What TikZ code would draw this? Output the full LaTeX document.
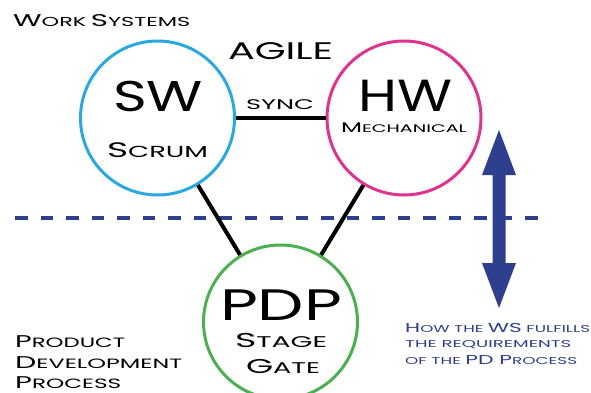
\documentclass[tikz,border=0pt]{standalone}
\usepackage{fontspec}
\usepackage{graphicx}
\setmainfont{Poppins}
\definecolor{swblue}{HTML}{29A9E0}
\definecolor{hwpink}{HTML}{E0338F}
\definecolor{pdgreen}{HTML}{4CAF50}
\definecolor{navy}{HTML}{2E3F8E}
% size-switched letters for a caps / small-caps look
\newcommand\kc[2]{{\fontsize{#1pt}{#1pt}\selectfont #2}}
% set a line of text to a given width (pt) by stretching it horizontally
\newlength\fitlen
\newcommand\fitw[2]{\settowidth\fitlen{#2}\scalebox{\fpeval{#1/\fitlen}}[1]{#2}}
\tikzset{
  ring/.style={circle, line width=3pt, minimum size=154pt, inner sep=0pt, fill=white},
  link/.style={line width=4pt, black},
  lbl/.style={inner sep=0pt, anchor=base, text=black, text depth=0pt},
  blk/.style={inner sep=0pt, anchor=base west, text=black, text depth=0pt},
}
\begin{document}
\begin{tikzpicture}[x=1pt,y=-1pt]
\useasboundingbox (0,0) rectangle (591,393);
\clip (0,0) rectangle (591,393);

% dividing line between work systems and process
\draw[navy, line width=3.5pt, dash pattern=on 12.5pt off 13pt] (15,218) -- (548,218);

% circles
\node[ring, draw=swblue] (sw) at (157.5,118) {};
\node[ring, draw=hwpink] (hw) at (404,118) {};
\node[ring, draw=pdgreen] (pdp) at (280.5,322) {};

% connectors
\draw[link] (sw) -- (hw);
\draw[link] (sw) -- (pdp);
\draw[link] (hw) -- (pdp);

% circle labels
\node[lbl] (swt) at (158,112) {\fitw{90}{\kc{43}{SW}}};
\node[lbl] (swsub) at (157.5,157) {\fitw{101}{\kc{21}{S}\kc{16}{CRUM}}};
\node[lbl] (hwt) at (405,112) {\fitw{94}{\kc{45}{HW}}};
\node[lbl] (hwsub) at (404,132) {\fitw{126}{\kc{14}{M}\kc{11}{ECHANICAL}}};
\node[lbl] (pdpt) at (281,320) {\fitw{122}{\kc{44}{PDP}}};
\node[lbl] (stage) at (281,347) {\fitw{92}{\kc{20}{S}\kc{15.5}{TAGE}}};
\node[lbl] (gate) at (283,373) {\fitw{74}{\kc{20}{G}\kc{15.5}{ATE}}};

% headings
\node[lbl] (agile) at (280.5,60) {\fitw{105}{\kc{24}{AGILE}}};
\node[lbl] (sync) at (280,110) {\fitw{68}{\kc{14}{SYNC}}};
\node[blk] (ws) at (13,27) {\fitw{177}{\kc{17}{W}\kc{13}{ORK} \kc{17}{S}\kc{13}{YSTEMS}}};
\node[blk] (pd1) at (15,347) {\fitw{110}{\kc{17}{P}\kc{13.5}{RODUCT}}};
\node[blk] (pd2) at (15,368) {\fitw{167}{\kc{17}{D}\kc{13.5}{EVELOPMENT}}};
\node[blk] (pd3) at (15,388) {\fitw{106}{\kc{17}{P}\kc{13.5}{ROCESS}}};

% two-way arrow
\fill[navy] (499,130) -- (516,175) -- (505.5,175) -- (505.5,263) -- (516,263)
  -- (499,308) -- (482,263) -- (492.5,263) -- (492.5,175) -- (482,175) -- cycle;

\node[blk, text=navy] (how1) at (405,332) {\fitw{185}{\kc{13}{H}\kc{10}{OW THE} \kc{13}{WS} \kc{10}{FULFILLS}}};
\node[blk, text=navy] (how2) at (405,347) {\fitw{166}{\kc{10}{THE REQUIREMENTS}}};
\node[blk, text=navy] (how3) at (405,364) {\fitw{172}{\kc{10}{OF THE} \kc{13}{PD P}\kc{10}{ROCESS}}};
\end{tikzpicture}
\end{document}
